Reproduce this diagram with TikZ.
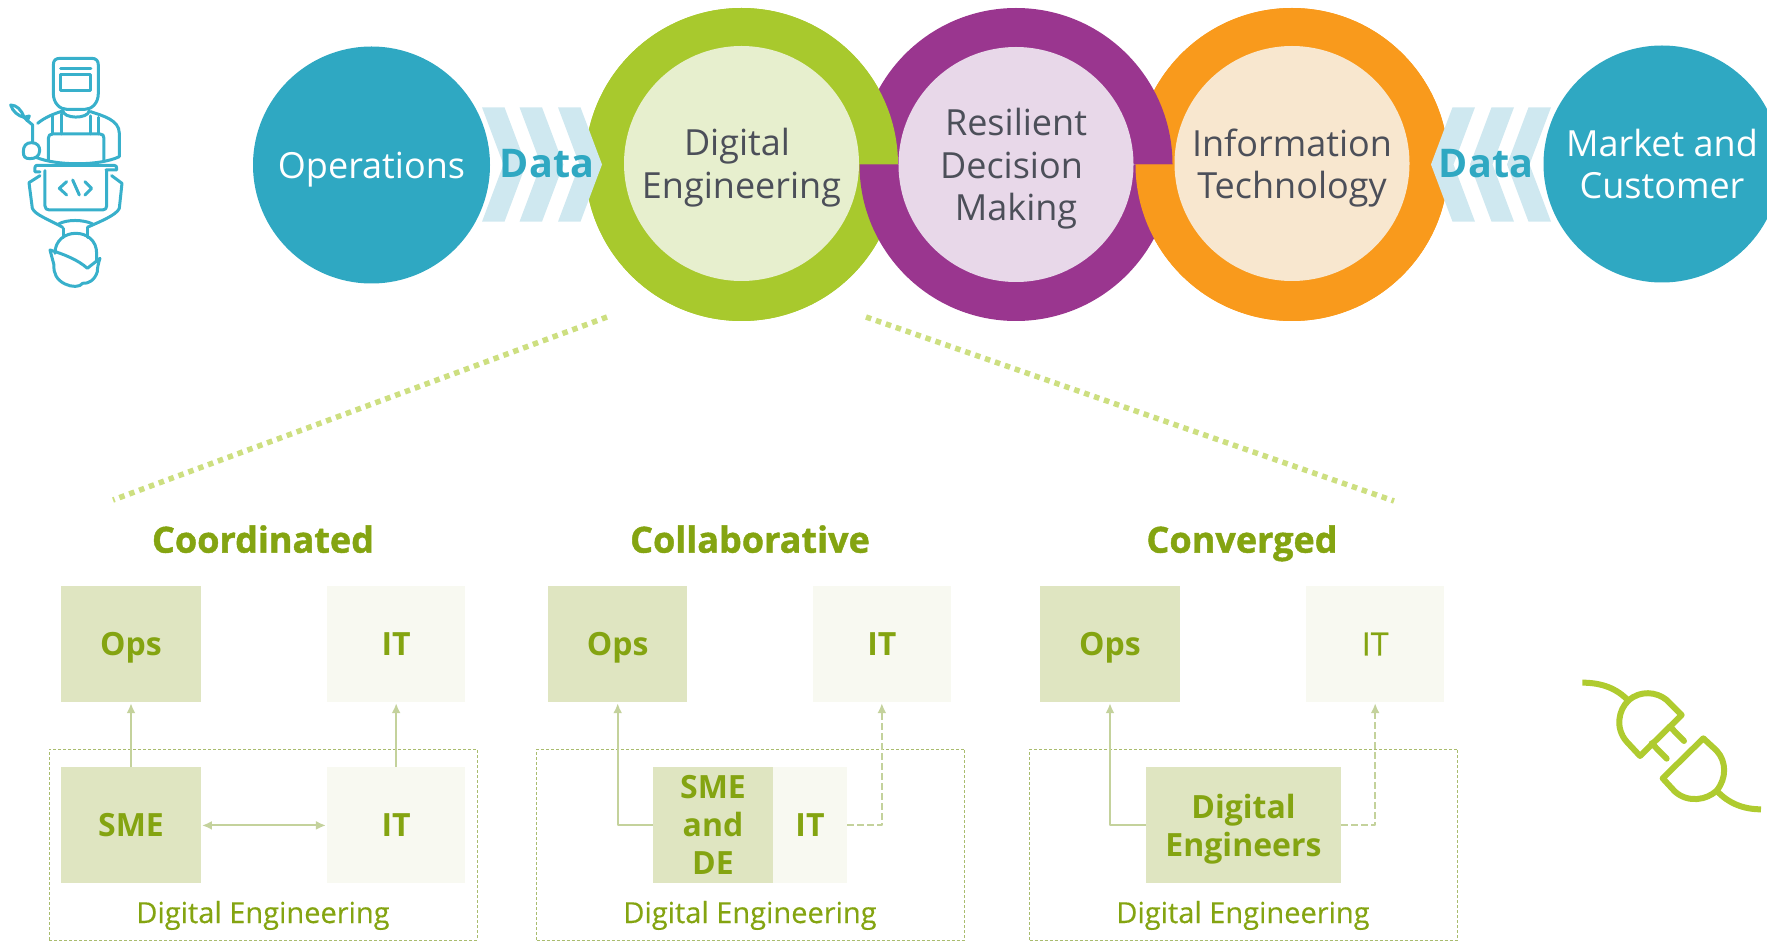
\documentclass[tikz,border=0pt]{standalone}
\usepackage{fontspec}
\setmainfont{Open Sans}
\usetikzlibrary{%
  arrows.meta,%
  calc,%
  positioning% wg. " of "
}
\definecolor{teal1}{HTML}{2FA8C2}
\definecolor{chevron}{HTML}{CFE8F0}
\definecolor{green1}{HTML}{A8C92D}
\definecolor{green2}{HTML}{E7EFCE}
\definecolor{purple1}{HTML}{9A368F}
\definecolor{purple2}{HTML}{E8D8E9}
\definecolor{orange1}{HTML}{F99A1C}
\definecolor{orange2}{HTML}{F8E7CF}
\definecolor{grey1}{HTML}{4C4F59}
\definecolor{olive}{HTML}{84A411}
\definecolor{boxa}{HTML}{DFE5C1}
\definecolor{boxb}{HTML}{F8F9F1}
\definecolor{linkc}{HTML}{C4D29C}
\definecolor{dotc}{HTML}{CDDF80}
\definecolor{framec}{HTML}{A9BC6E}
\definecolor{iconc}{HTML}{38B0CB}
\definecolor{plugc}{HTML}{AFCB2F}
\begin{document}
\begin{tikzpicture}[
    x=1pt,y=-1pt,>={Latex[length=10pt,width=9pt]},line join=round,
    outer/.style={circle,fill=teal1,text=white,minimum size=237pt,inner sep=0pt,
        text depth=0pt,font=\fontsize{36}{42.5}\selectfont,align=center},
    inner/.style={circle,text=grey1,minimum size=235pt,inner sep=0pt,
        text depth=0pt,font=\fontsize{36}{42.5}\selectfont,align=center},
    chev/.style={fill=chevron},
    datatext/.style={text=teal1,font=\fontsize{39.5}{42}\selectfont\bfseries},
    title/.style={text=olive,text depth=0pt,
        font=\fontsize{36}{38}\selectfont\bfseries\addfontfeature{FakeBold=1.2}},
    boxdark/.style={rectangle,fill=boxa,text=olive,minimum width=139.5pt,minimum height=116pt,
        inner sep=0pt,text depth=0pt,align=center,font=\fontsize{32}{38}\selectfont\bfseries},
    boxlight/.style={boxdark,fill=boxb,minimum width=138pt},
    frame/.style={rectangle,draw=framec,densely dashed,line width=.8pt,
        minimum width=428pt,minimum height=191pt,inner sep=0pt},
    delabel/.style={text=olive,text depth=0pt,
        font=\fontsize{29}{32}\selectfont\addfontfeature{FakeBold=.3}},
    link/.style={draw=linkc,line width=2pt,shorten >=1pt},
    dashlink/.style={link,dash pattern=on 7pt off 3pt},
    dotline/.style={draw=dotc,line width=5.5pt,dash pattern=on 5.5pt off 5pt},
    node distance=65pt and 126pt
  ]
    \useasboundingbox (0,0) rectangle (1767,941);

    % rings, woven
    \fill [green1] (741.5,164.5) circle [radius=156.5];
    \fill [orange1] (1292,164.5) circle [radius=156.5];
    \fill [orange1] (1135.5,164.5) arc [start angle=180,end angle=360,radius=156.5] -- cycle;
    \fill [purple1] (859.5,164.5) arc [start angle=180,end angle=360,radius=156.5] -- cycle;
    \fill [green1] (585,164.5) arc [start angle=180,end angle=360,radius=156.5] -- cycle;
    \fill [green1] (585,164.5) arc [start angle=180,end angle=0,radius=156.5] -- cycle;
    \fill [purple1] (859.5,164.5) arc [start angle=180,end angle=0,radius=156.5] -- cycle;
    \fill [orange1] (1135.5,164.5) arc [start angle=180,end angle=0,radius=156.5] -- cycle;

    \node (ops)  [outer] at (371.5,165) {Operations};
    \node (mkt)  [outer] at (1662,164) {Market and\\Customer};
    \node (de)   [inner,fill=green2] at (741.5,163.5) {\mbox{Digital\hspace{9pt}}\\Engineering};
    \node (rdm)  [inner,fill=purple2] at (1016,164.5) {Resilient\\\mbox{Decision\hspace{9pt}}\\Making};
    \node (info) [inner,fill=orange2] at (1292,163.5) {Information\\Technology};

    % chevrons
    \foreach \x in {482,519.5,558}
      \fill [chev] (\x,107.3) -- ++(22.5,0) -- ++(21.5,57.2) -- ++(-21.5,57.2)
        -- ++(-22.5,0) -- ++(21.5,-57.2) -- cycle;
    \foreach \x in {1475,1514,1551}
      \fill [chev] (\x,107.3) -- ++(-22.5,0) -- ++(-21.5,57.2) -- ++(21.5,57.2)
        -- ++(22.5,0) -- ++(-21.5,-57.2) -- cycle;
    \node (data1) [datatext] at (547,164) {Data};
    \node (data2) [datatext] at (1486,164) {Data};

    % dotted lines
    \coordinate (dl1) at (607,317);
    \coordinate (dl2) at (113,500);
    \coordinate (dr1) at (866,317);
    \coordinate (dr2) at (1394,501);
    \draw [dotline] (dl1) -- (dl2);
    \draw [dotline] (dr1) -- (dr2);

    % coordinated
    \node (t1) [title] at (263,539) {Coordinated};
    \node (frame1) [frame] at (263,844.5) {};
    \node (ops1) [boxdark] at (131,644) {Ops};
    \node (it1)  [boxlight,right=126pt of ops1] {IT};
    \node (sme1) [boxdark,below=65pt of ops1] {SME};
    \node (itb1) [boxlight,below=65pt of it1] {IT};
    \node (lab1) [delabel] at (263,912) {Digital Engineering};
    \draw [link,->] (sme1) -- (ops1);
    \draw [link,->] (itb1) -- (it1);
    \draw [link,<->,shorten <=1pt] (sme1) -- (itb1);

    % collaborative
    \node (t2) [title] at (750,539) {Collaborative};
    \node (frame2) [frame] at (750.5,844.5) {};
    \node (ops2) [boxdark] at (617.7,644) {Ops};
    \node (it2)  [boxlight,right=125pt of ops2] {IT};
    \node (itb2) [boxlight,minimum width=74pt] at (810,825) {IT};
    \node (sme2) [boxdark,minimum width=120.5pt] at (713,825) {SME\\and\\DE};
    \node (lab2) [delabel] at (750,912) {Digital Engineering};
    \draw [link,->] (sme2.west) -| (ops2.south);
    \draw [dashlink,->] (itb2.east) -| (it2.south);

    % converged
    \node (t3) [title] at (1242,539) {Converged};
    \node (frame3) [frame] at (1243.5,844.5) {};
    \node (ops3) [boxdark] at (1110,644) {Ops};
    \node (it3)  [boxlight,right=126pt of ops3,
        font=\fontsize{32}{38}\selectfont\addfontfeature{FakeBold=.8}] {IT};
    \node (eng3) [boxdark,minimum width=195pt] at (1243.5,825) {Digital\\Engineers};
    \node (lab3) [delabel] at (1243,912) {Digital Engineering};
    \draw [link,->] (eng3.west) -| (ops3.south);
    \draw [dashlink,->] (eng3.east) -| (it3.south);

    % worker
    \begin{scope}[shift={(0,30)},x=.3333pt,y=-.3333pt,draw=iconc,line width=3pt,line cap=round]
      \draw (160,105) .. controls (160,90) and (168,85) .. (180,85) -- (275,85)
        .. controls (288,85) and (295,92) .. (295,105) -- (295,190)
        .. controls (295,220) and (275,238) .. (255,238) -- (200,238)
        .. controls (180,238) and (160,220) .. (160,190) -- cycle;
      \draw (182,116) -- (273,116);
      \draw (183,135) rectangle (273,182);
      \draw (188,240) .. controls (188,268) and (265,268) .. (268,242);
      \draw (113,280) .. controls (135,262) and (160,252) .. (188,243);
      \draw (272,245) .. controls (310,258) and (358,270) .. (358,310) -- (358,380);
      \draw (158,258) -- (158,312);
      \draw (185,252) -- (185,312);
      \draw (271,258) -- (271,312);
      \draw (297,262) -- (297,312);
      \draw (145,392) -- (145,325) .. controls (145,316) and (150,312) .. (158,312)
        -- (300,312) .. controls (308,312) and (312,316) .. (312,325) -- (312,392);
      \draw (108,382) .. controls (170,408) and (300,408) .. (358,380);
      \draw (95,338) .. controls (112,338) and (120,350) .. (119,362)
        .. controls (118,378) and (108,386) .. (90,386) .. controls (75,386) and (70,380) .. (70,365)
        .. controls (70,348) and (78,338) .. (95,338);
      \draw (98,338) -- (98,285) -- (80,270);
      \draw (72,262) -- (88,258) -- (82,272) -- cycle;
      \draw (32,225) .. controls (50,225) and (65,240) .. (72,262)
        .. controls (55,258) and (38,245) .. (32,225);
      \draw (120,426) -- (105,426) -- (105,412) .. controls (105,408) and (108,406) .. (112,406)
        -- (342,406) .. controls (348,406) and (350,410) .. (350,414) -- (350,420) -- (318,420);
      \draw (135,422) -- (135,528) .. controls (135,536) and (140,540) .. (148,540)
        -- (308,540) .. controls (316,540) and (320,535) .. (320,528) -- (320,422);
      \draw (200,455) -- (178,475) -- (200,495);
      \draw (218,450) -- (238,495);
      \draw (255,455) -- (275,475) -- (255,495);
      \draw (120,437) -- (87,458) -- (97,535) .. controls (105,555) and (150,570) .. (188,592);
      \draw (335,437) -- (366,460) -- (358,535) .. controls (350,555) and (300,575) .. (262,592);
      \draw (176,582) .. controls (200,568) and (250,568) .. (278,582);
      \draw (190,595) -- (190,622);
      \draw (262,595) -- (262,622);
      \draw (165,670) .. controls (165,590) and (290,590) .. (290,670) -- (290,690);
      \draw (150,660) .. controls (190,672) and (235,690) .. (262,715) -- (300,685)
        .. controls (295,700) and (292,715) .. (292,725) .. controls (285,750) and (265,762) .. (248,760)
        .. controls (240,772) and (215,772) .. (195,762) .. controls (170,750) and (160,730) .. (162,705)
        -- cycle;
    \end{scope}

    % plug
    \begin{scope}[shift={(1560,660)},x=.3333pt,y=-.3333pt,draw=plugc,line width=6pt]
      \draw (67,68) .. controls (125,68) and (170,85) .. (205,122);
      \draw (365,165) -- (240,288) -- (200,245) .. controls (165,205) and (175,150) .. (205,122)
        .. controls (240,90) and (290,95) .. (320,120) -- cycle;
      \draw [line cap=round] (330,200) -- (372,243);
      \draw [line cap=round] (275,250) -- (320,296);
      \draw (430,235) -- (308,355) -- (345,395) .. controls (385,430) and (440,420) .. (470,392)
        .. controls (500,355) and (500,305) .. (470,272) -- cycle;
      \draw (470,392) .. controls (505,430) and (550,448) .. (603,448);
    \end{scope}
\end{tikzpicture}
\end{document}
